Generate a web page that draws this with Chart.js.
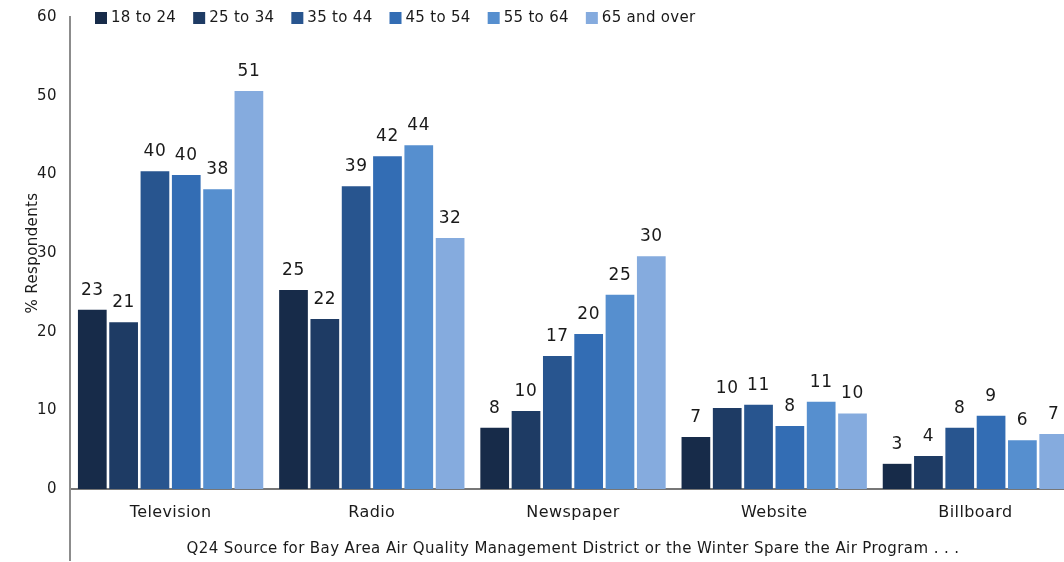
<!DOCTYPE html>
<html>
<head>
<meta charset="utf-8">
<script src="https://cdn.jsdelivr.net/npm/chart.js@4"></script>
<style>
html, body { margin: 0; padding: 0; overflow: hidden; background: #fff; }
#wrap { width: 1080px; height: 562px; }
</style>
</head>
<body>
<div id="wrap"><canvas id="chart" width="1080" height="562"></canvas></div>
<script>
// categories and age groups
var categories = ['Television', 'Radio', 'Newspaper', 'Website', 'Billboard'];
var ageGroups = ['18 to 24', '25 to 34', '35 to 44', '45 to 54', '55 to 64', '65 and over'];

// % respondents
var age18to24 = [22.8, 25.3, 7.8, 6.6, 3.2];
var age25to34 = [21.2, 21.6, 9.9, 10.3, 4.2];
var age35to44 = [40.4, 38.5, 16.9, 10.7, 7.8];
var age45to54 = [39.9, 42.3, 19.7, 8.0, 9.3];
var age55to64 = [38.1, 43.7, 24.7, 11.1, 6.2];
var age65plus = [50.6, 31.9, 29.6, 9.6, 7.0];

var yTicks = [0, 10, 20, 30, 40, 50, 60];
var colors = ['#172b49', '#1e3b64', '#28558f', '#336db4', '#568fcf', '#85abde'];

var FONT = '"DejaVu Sans", Verdana, sans-serif';
var TEXT = '#1a1a1a';

var series = [age18to24, age25to34, age35to44, age45to54, age55to64, age65plus];
var datasets = [];
for (var i = 0; i < series.length; i++) {
  datasets.push({
    label: ageGroups[i],
    data: series[i],
    backgroundColor: colors[i],
    borderWidth: 0,
    categoryPercentage: 0.934,
    barPercentage: 0.917
  });
}

// slightly spaced text, like the original
var spacing = {
  id: 'spacing',
  beforeDraw: function(chart) {
    chart.ctx.letterSpacing = '0.4px';
  }
};

// value labels above the bars
var barLabels = {
  id: 'barLabels',
  afterDatasetsDraw: function(chart) {
    var ctx = chart.ctx;
    ctx.save();
    ctx.font = '17px ' + FONT;
    ctx.letterSpacing = '0.6px';
    ctx.fillStyle = TEXT;
    ctx.textAlign = 'center';
    ctx.textBaseline = 'alphabetic';
    chart.data.datasets.forEach(function(ds, di) {
      var meta = chart.getDatasetMeta(di);
      meta.data.forEach(function(bar, j) {
        ctx.fillText(Math.round(ds.data[j]), bar.x, bar.y - 15);
      });
    });
    ctx.restore();
  }
};

// legend sits inside the plot, top left
var topLegend = {
  id: 'topLegend',
  afterDraw: function(chart) {
    var ctx = chart.ctx;
    var x = chart.chartArea.left + 25;
    var y = chart.chartArea.top + 1;
    ctx.save();
    ctx.font = '15px ' + FONT;
    ctx.letterSpacing = '0.3px';
    ctx.textAlign = 'left';
    ctx.textBaseline = 'middle';
    chart.data.datasets.forEach(function(ds) {
      ctx.fillStyle = ds.backgroundColor;
      ctx.fillRect(x, y - 6, 12, 12);
      ctx.fillStyle = TEXT;
      ctx.fillText(ds.label, x + 16, y);
      x += 16 + ctx.measureText(ds.label).width + 17;
    });
    ctx.restore();
  }
};

// the y axis line runs on below the x axis
var axisTail = {
  id: 'axisTail',
  afterDraw: function(chart) {
    var ctx = chart.ctx;
    var a = chart.chartArea;
    ctx.save();
    ctx.strokeStyle = '#8c8c8c';
    ctx.lineWidth = 2;
    ctx.beginPath();
    ctx.moveTo(a.left, a.bottom);
    ctx.lineTo(a.left, chart.height - 1);
    ctx.stroke();
    ctx.restore();
  }
};

var chart = new Chart(document.getElementById('chart'), {
  type: 'bar',
  data: { labels: categories, datasets: datasets },
  plugins: [spacing, barLabels, topLegend, axisTail],
  options: {
    responsive: false,
    animation: false,
    layout: { padding: { top: 17, right: 4, left: 0, bottom: 0 } },
    plugins: {
      legend: { display: false },
      tooltip: { enabled: false }
    },
    scales: {
      x: {
        grid: { display: false, drawTicks: false },
        border: { display: true, color: '#777', width: 2 },
        ticks: { color: TEXT, font: { family: FONT, size: 16 }, padding: 14 },
        title: {
          display: true,
          text: 'Q24 Source for Bay Area Air Quality Management District or the Winter Spare the Air Program . . .',
          color: TEXT,
          font: { family: FONT, size: 15 },
          padding: { top: 0, bottom: 4 }
        },
        afterFit: function(scale) { scale.height = 73; }
      },
      y: {
        min: 0,
        max: 60,
        grid: { display: false, drawTicks: false },
        border: { display: true, color: '#8c8c8c', width: 2 },
        afterBuildTicks: function(scale) {
          scale.ticks = yTicks.map(function(v) { return { value: v }; });
        },
        ticks: { color: TEXT, font: { family: FONT, size: 15 }, padding: 13 },
        title: {
          display: true,
          text: '% Respondents',
          color: TEXT,
          font: { family: FONT, size: 15 },
          padding: { top: 24, bottom: 0 }
        },
        afterFit: function(scale) {
          scale.width = 70;
          scale.paddingTop = 9;
          scale.paddingBottom = 9;
        }
      }
    }
  }
});
</script>
</body>
</html>
